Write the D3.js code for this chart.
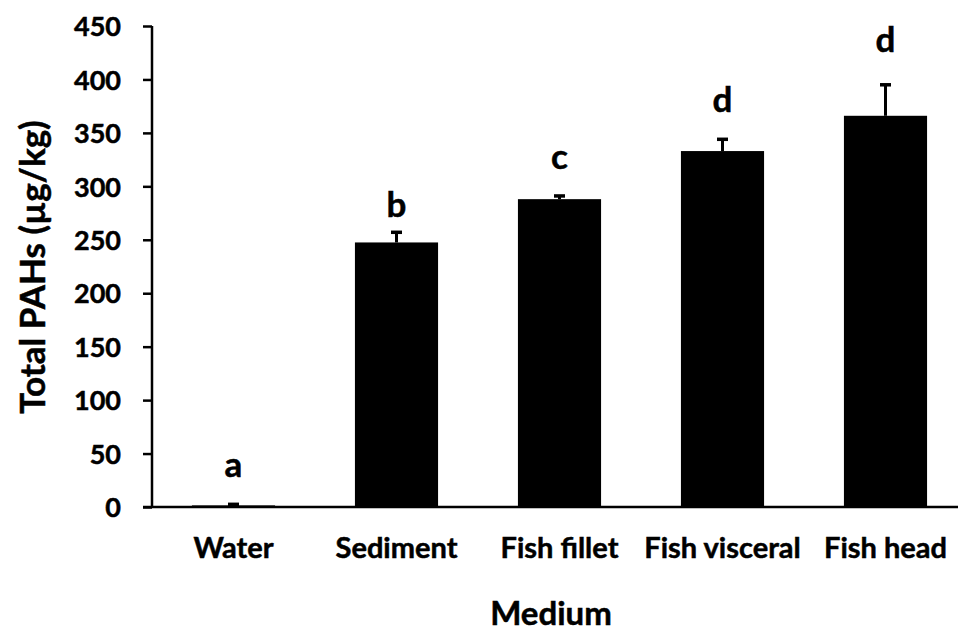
<!DOCTYPE html>
<html>
<head>
<meta charset="utf-8">
<script src="https://cdn.jsdelivr.net/npm/d3@7"></script>
<style>
  html, body { margin: 0; padding: 0; background: #fff; }
  svg text { font-family: Lato, "Open Sans", "Liberation Sans", sans-serif; font-weight: bold; fill: #000; stroke: #000; stroke-width: 0.5px; }
</style>
</head>
<body>
<svg id="chart" width="958" height="633"></svg>
<script>
// Total PAHs per sampled medium, with standard error and significance letters
const categories = ["Water", "Sediment", "Fish fillet", "Fish visceral", "Fish head"];
const means = [1.5, 247.5, 288, 333, 366];
const errors = [1, 9.5, 3, 11, 29];
const letters = ["a", "b", "c", "d", "d"];
const letterValues = [28, 271, 316, 370, 425.6];
const yTicks = [0, 50, 100, 150, 200, 250, 300, 350, 400, 450];

const svg = d3.select("#chart");
const margin = { left: 152, top: 26, bottom: 126 };
const innerH = 633 - margin.top - margin.bottom;
const innerW = 815;

const x = d3.scaleBand().domain(categories).range([0, innerW]).paddingInner(0.49).paddingOuter(0.245);
const y = d3.scaleLinear().domain([0, 450]).range([innerH, 0]);

const g = svg.append("g").attr("transform", `translate(${margin.left},${margin.top})`);

// bars
g.selectAll("rect.bar").data(categories).join("rect")
  .attr("class", "bar")
  .attr("x", d => x(d))
  .attr("width", x.bandwidth())
  .attr("y", (d, i) => y(means[i]))
  .attr("height", (d, i) => y(0) - y(means[i]))
  .attr("fill", "#000");

// error bars (upper half only)
const eg = g.selectAll("g.err").data(categories).join("g").attr("class", "err");
eg.append("line")
  .attr("x1", d => x(d) + x.bandwidth() / 2)
  .attr("x2", d => x(d) + x.bandwidth() / 2)
  .attr("y1", (d, i) => y(means[i]))
  .attr("y2", (d, i) => y(means[i] + errors[i]))
  .attr("stroke", "#000").attr("stroke-width", 3);
eg.append("line")
  .attr("x1", d => x(d) + x.bandwidth() / 2 - 5.5)
  .attr("x2", d => x(d) + x.bandwidth() / 2 + 5.5)
  .attr("y1", (d, i) => y(means[i] + errors[i]))
  .attr("y2", (d, i) => y(means[i] + errors[i]))
  .attr("stroke", "#000").attr("stroke-width", 3.5);

// significance letters
g.selectAll("text.letter").data(categories).join("text")
  .attr("class", "letter")
  .attr("x", d => x(d) + x.bandwidth() / 2)
  .attr("y", (d, i) => y(letterValues[i]))
  .attr("text-anchor", "middle")
  .style("font-size", "35px")
  .text((d, i) => letters[i]);

// y axis
const yAxis = g.append("g")
  .call(d3.axisLeft(y).tickValues(yTicks).tickSize(9).tickPadding(22).tickFormat(d3.format("d")));
yAxis.select(".domain").attr("stroke", "#000").attr("stroke-width", 2.5).attr("d", `M0,${y(450)}V${y(0)}`);
yAxis.selectAll(".tick line").attr("stroke", "#000").attr("stroke-width", 2.5);
yAxis.selectAll(".tick text").style("font-size", "27px").attr("dy", "0.36em");

// x axis
const xAxis = g.append("g").attr("transform", `translate(0,${innerH})`)
  .call(d3.axisBottom(x).tickSize(0).tickPadding(30));
xAxis.select(".domain").attr("stroke", "#000").attr("stroke-width", 2.5).attr("d", `M-9,0H${innerW}`);
xAxis.selectAll(".tick text").style("font-size", "29px");

// axis titles
svg.append("text")
  .attr("x", 551).attr("y", 625)
  .attr("text-anchor", "middle")
  .style("font-size", "33px")
  .text("Medium");

svg.append("text")
  .attr("transform", "translate(45,267) rotate(-90)")
  .attr("text-anchor", "middle")
  .style("font-size", "35px")
  .text("Total PAHs (µg/kg)");
</script>
</body>
</html>
